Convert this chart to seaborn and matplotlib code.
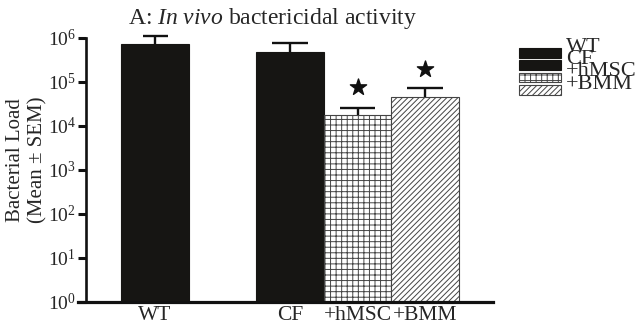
import numpy as np
import pandas as pd
import matplotlib
matplotlib.use("Agg")
import matplotlib.pyplot as plt
from matplotlib.patches import Patch, Rectangle
from matplotlib.legend_handler import HandlerPatch
import seaborn as sns

# Data
groups = ["WT", "CF", "+hMSC", "+BMM"]
positions = [0, 2, 3, 4]
load_mean = [7.3e5, 4.8e5, 1.8e4, 4.6e4]
load_upper = [1.11e6, 7.7e5, 2.6e4, 7.4e4]   # mean + SEM
star_groups = ["+hMSC", "+BMM"]
star_y = [7.8e4, 2.0e5]
yticks = [1e0, 1e1, 1e2, 1e3, 1e4, 1e5, 1e6]
ytick_labels = ["$10^{%d}$" % k for k in range(7)]

sns.set_style("ticks")
plt.rcParams["font.family"] = ["Liberation Serif", "DejaVu Serif"]
plt.rcParams["mathtext.fontset"] = "custom"
plt.rcParams["mathtext.rm"] = "Liberation Serif"
plt.rcParams["mathtext.it"] = "Liberation Serif:italic"
plt.rcParams["hatch.linewidth"] = 0.7

df = pd.DataFrame({"pos": positions, "load": load_mean, "group": groups})

face = {"WT": "#161513", "CF": "#161513", "+hMSC": "white", "+BMM": "white"}
edge = {"WT": "#161513", "CF": "#161513", "+hMSC": "#444444", "+BMM": "#444444"}
hatch = {"WT": None, "CF": None, "+hMSC": "+++", "+BMM": "//////"}

fig = plt.figure(figsize=(6.4, 3.29), dpi=100)
ax = fig.add_axes([0.1219, 0.0821, 0.6484, 0.8024])

sns.barplot(data=df, x="pos", y="load", hue="group", hue_order=groups,
            palette=face, native_scale=True, width=1.0, dodge=False,
            legend=False, linewidth=0.8, ax=ax)
ax.set_yscale("log")

for bar, g in zip(ax.patches, groups):
    bar.set_edgecolor(edge[g])
    bar.set_hatch(hatch[g])

# one-sided error bars (up only)
cap_half = [0.185, 0.26, 0.26, 0.26]
ax.vlines(positions, load_mean, load_upper, color="#111111", lw=1.7, clip_on=False, zorder=3)
ax.hlines(load_upper, np.array(positions) - cap_half, np.array(positions) + cap_half,
          color="#111111", lw=1.7, clip_on=False, zorder=3)

# significance stars
star_x = [positions[groups.index(g)] for g in star_groups]
ax.scatter(star_x, star_y, marker="*", s=150, color="#111111", clip_on=False, zorder=4)

sns.despine(ax=ax)
ax.spines["left"].set_position(("data", -1.022))
ax.spines["left"].set_linewidth(1.9)
ax.spines["bottom"].set_linewidth(2.3)
ax.spines["left"].set_color("#111111")
ax.spines["bottom"].set_color("#111111")

ax.set_xlim(-1.141, 5.007)
ax.set_ylim(1, 1e6)
ax.set_yticks(yticks)
ax.set_yticklabels(ytick_labels)
ax.yaxis.set_minor_locator(matplotlib.ticker.NullLocator())
ax.set_xticks(positions)
ax.set_xticklabels(groups)
ax.set_xlabel("")
ax.set_ylabel("")
ax.tick_params(axis="y", length=5.8, width=2.2, pad=1.5, color="#111111", labelsize=14)
ax.tick_params(axis="x", length=0, pad=3, labelsize=15.5)

fig.text(0.2, 0.927, r"A: $\mathit{In\ vivo}$ bactericidal activity",
         fontsize=17, ha="left", va="baseline")
fig.text(0.042, 0.515, "Bacterial Load\n(Mean \u00b1 SEM)", rotation=90,
         fontsize=15, ha="center", va="center", linespacing=1.25)


# legend swatches sit a bit lower than their labels
def low_rect(legend, orig_handle, xdescent, ydescent, width, height, fontsize):
    return Rectangle((-xdescent, -ydescent - 0.42 * fontsize), width, height)


handles = [Patch(facecolor=face[g], edgecolor=edge[g], hatch=hatch[g], label=g, lw=0.8)
           for g in groups]
ax.legend(handles=handles, loc="upper left", bbox_to_anchor=(0.811, 0.886),
          bbox_transform=fig.transFigure, frameon=False, fontsize=16,
          handlelength=1.9, handleheight=0.3, handletextpad=0.2,
          labelspacing=-0.3, borderpad=0, borderaxespad=0,
          handler_map={Patch: HandlerPatch(patch_func=low_rect)})

fig.savefig("out.png", dpi=100)
